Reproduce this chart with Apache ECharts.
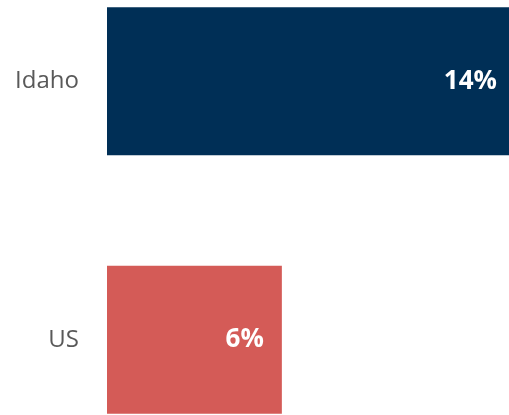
<!DOCTYPE html>
<html>
<head>
<meta charset="utf-8">
<script src="https://cdn.jsdelivr.net/npm/echarts@6/dist/echarts.min.js"></script>
<style>
  html, body { margin: 0; padding: 0; background: #ffffff; overflow: hidden; width: 509px; height: 415px; }
  /* canvas is larger than the page so the bars run off the top-right edges */
  #chart { position: absolute; left: 0; top: -48px; width: 515px; height: 517px; }
</style>
</head>
<body>
<div id="chart"></div>
<script>
// Share of population, Idaho vs. national
const categories = ['Idaho', 'US'];
const values = [14, 6];
const barColors = ['#002F56', '#D45B57'];

const chart = echarts.init(document.getElementById('chart'), null, { renderer: 'canvas' });

chart.setOption({
  animation: false,
  grid: { left: 107, right: 0, top: 0, bottom: 0, containLabel: false },
  xAxis: {
    type: 'value',
    min: 0,
    max: 14,
    show: false
  },
  yAxis: {
    type: 'category',
    data: categories,
    inverse: true,
    axisLine: { show: false },
    axisTick: { show: false },
    splitLine: { show: false },
    axisLabel: {
      margin: 28,
      color: '#595959',
      fontFamily: 'Open Sans',
      fontSize: 24
    }
  },
  series: [{
    type: 'bar',
    barWidth: 148,
    data: values.map((v, i) => ({ value: v, itemStyle: { color: barColors[i] } })),
    label: {
      show: true,
      position: 'insideRight',
      distance: 18,
      formatter: p => p.value + '%',
      color: '#ffffff',
      fontFamily: 'Open Sans',
      fontWeight: 'bold',
      fontSize: 26
    }
  }]
});
</script>
</body>
</html>
